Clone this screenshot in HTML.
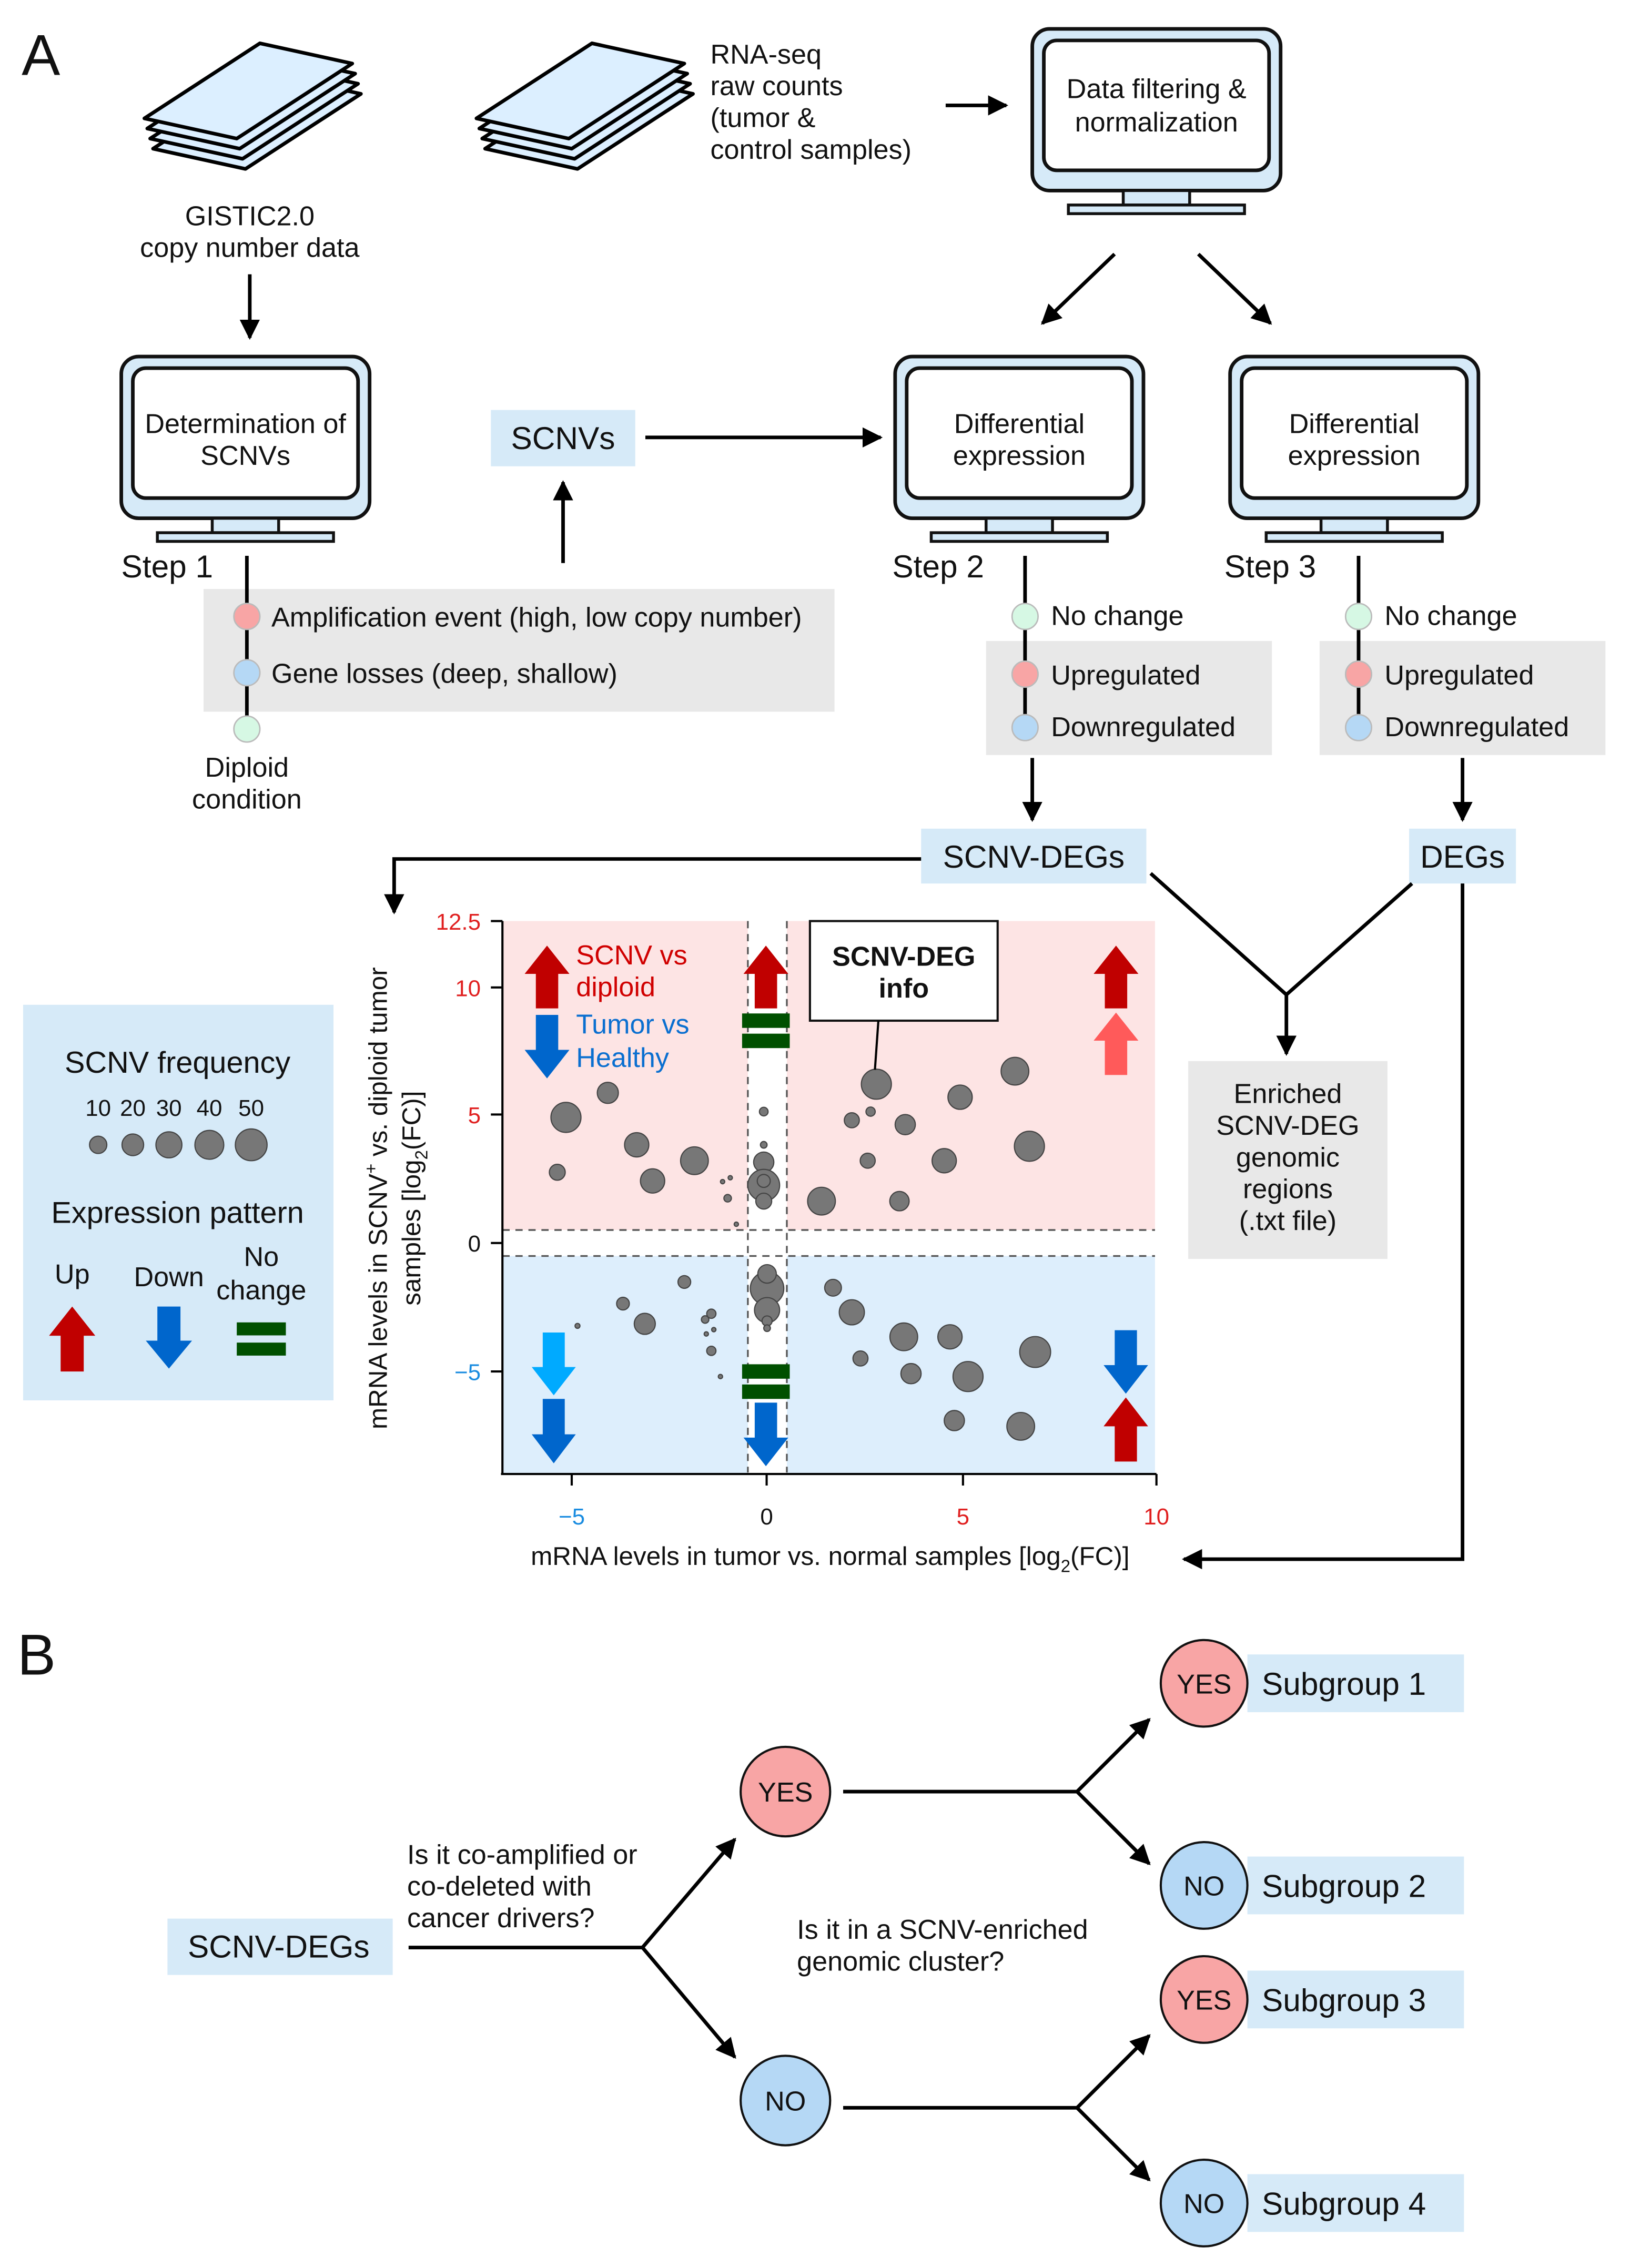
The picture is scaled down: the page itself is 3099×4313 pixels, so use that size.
<!DOCTYPE html>
<html><head><meta charset="utf-8"><style>html,body{margin:0;padding:0;background:#fff}svg{display:block}text{font-family:"Liberation Sans",Arial,sans-serif;fill:#111}</style></head><body>
<svg width="3099" height="4313" viewBox="0 0 1129 1571" preserveAspectRatio="none" xmlns="http://www.w3.org/2000/svg">
<defs>
<marker id="ah" viewBox="0 0 10 10" refX="9" refY="5" markerWidth="7" markerHeight="7" markerUnits="userSpaceOnUse" orient="auto"><path d="M0,0L10,5L0,10z" fill="#000"/></marker>
<marker id="ah2" viewBox="0 0 10 10" refX="9" refY="5" markerWidth="14" markerHeight="14" markerUnits="userSpaceOnUse" orient="auto"><path d="M0,0L10,5L0,10z" fill="#000"/></marker>
<g id="stack" stroke="#000" stroke-width="2.5" stroke-linejoin="round" fill="#dcefff">
<polygon points="106,103 186,51 250,65 170,117"/>
<polygon points="104,96 184,44 248,58 168,110"/>
<polygon points="102,89 182,37 246,51 166,103"/>
<polygon points="100,82 180,30 244,44 164,96"/>
</g>
<g id="mon">
<rect x="0" y="0" width="172" height="112" rx="12" fill="#d6eaf8" stroke="#111" stroke-width="2.5"/>
<rect x="8" y="8" width="156" height="90" rx="9" fill="#fff" stroke="#111" stroke-width="2.5"/>
<rect x="63" y="112" width="46" height="10" fill="#d6eaf8" stroke="#111" stroke-width="2"/>
<rect x="25" y="122" width="122" height="6" fill="#d6eaf8" stroke="#111" stroke-width="2"/>
</g>
<polygon id="up" points="0.5,0 1,0.45 0.75,0.45 0.75,1 0.25,1 0.25,0.45 0,0.45"/>
<polygon id="dn" points="0.5,1 1,0.55 0.75,0.55 0.75,0 0.25,0 0.25,0.55 0,0.55"/>
</defs>

<text x="15" y="52" font-size="40">A</text>
<use href="#stack"/>
<use href="#stack" transform="translate(230,0)"/>
<text font-size="19"><tspan x="492" y="44">RNA-seq</tspan><tspan x="492" y="66">raw counts</tspan><tspan x="492" y="88">(tumor &amp;</tspan><tspan x="492" y="110">control samples)</tspan></text>
<line x1="655" y1="73" x2="697" y2="73" stroke="#000" stroke-width="2.5" marker-end="url(#ah2)"/>
<use href="#mon" transform="translate(715,20)"/>
<text font-size="19" text-anchor="middle"><tspan x="801" y="68">Data filtering &amp;</tspan><tspan x="801" y="91">normalization</tspan></text>
<line x1="772" y1="176" x2="722" y2="224" stroke="#000" stroke-width="2.5" marker-end="url(#ah2)"/>
<line x1="830" y1="176" x2="880" y2="224" stroke="#000" stroke-width="2.5" marker-end="url(#ah2)"/>

<text font-size="19" text-anchor="middle"><tspan x="173" y="156">GISTIC2.0</tspan><tspan x="173" y="178">copy number data</tspan></text>
<line x1="173" y1="190" x2="173" y2="234" stroke="#000" stroke-width="2.5" marker-end="url(#ah2)"/>

<use href="#mon" transform="translate(84,247)"/>
<text font-size="19" text-anchor="middle"><tspan x="170" y="300">Determination of</tspan><tspan x="170" y="322">SCNVs</tspan></text>
<use href="#mon" transform="translate(620,247)"/>
<text font-size="19" text-anchor="middle"><tspan x="706" y="300">Differential</tspan><tspan x="706" y="322">expression</tspan></text>
<use href="#mon" transform="translate(852,247)"/>
<text font-size="19" text-anchor="middle"><tspan x="938" y="300">Differential</tspan><tspan x="938" y="322">expression</tspan></text>

<text x="84" y="400" font-size="22">Step 1</text>
<text x="618" y="400" font-size="22">Step 2</text>
<text x="848" y="400" font-size="22">Step 3</text>

<rect x="340" y="284" width="100" height="39" fill="#d6eaf8"/>
<text x="390" y="311" font-size="22" text-anchor="middle">SCNVs</text>
<line x1="447" y1="303" x2="610" y2="303" stroke="#000" stroke-width="2.5" marker-end="url(#ah2)"/>
<line x1="390" y1="390" x2="390" y2="334" stroke="#000" stroke-width="2.5" marker-end="url(#ah2)"/>

<rect x="141" y="408" width="437" height="85" fill="#e8e8e8"/>
<line x1="171" y1="385" x2="171" y2="505" stroke="#000" stroke-width="2.5"/>
<circle cx="171" cy="427" r="9" fill="#f8a5a5" stroke="#bbb"/>
<circle cx="171" cy="466" r="9" fill="#b5d8f5" stroke="#bbb"/>
<circle cx="171" cy="505" r="9" fill="#d6f8e4" stroke="#bbb"/>
<text x="188" y="434" font-size="19">Amplification event (high, low copy number)</text>
<text x="188" y="473" font-size="19">Gene losses (deep, shallow)</text>
<text font-size="19" text-anchor="middle"><tspan x="171" y="538">Diploid</tspan><tspan x="171" y="560">condition</tspan></text>

<rect x="683" y="444" width="198" height="79" fill="#e8e8e8"/>
<line x1="710" y1="385" x2="710" y2="504" stroke="#000" stroke-width="2.5"/>
<circle cx="710" cy="427" r="9" fill="#d6f8e4" stroke="#bbb"/>
<circle cx="710" cy="467" r="9" fill="#f8a5a5" stroke="#bbb"/>
<circle cx="710" cy="504" r="9" fill="#b5d8f5" stroke="#bbb"/>
<text x="728" y="433" font-size="19">No change</text>
<text x="728" y="474" font-size="19">Upregulated</text>
<text x="728" y="510" font-size="19">Downregulated</text>

<rect x="914" y="444" width="198" height="79" fill="#e8e8e8"/>
<line x1="941" y1="385" x2="941" y2="504" stroke="#000" stroke-width="2.5"/>
<circle cx="941" cy="427" r="9" fill="#d6f8e4" stroke="#bbb"/>
<circle cx="941" cy="467" r="9" fill="#f8a5a5" stroke="#bbb"/>
<circle cx="941" cy="504" r="9" fill="#b5d8f5" stroke="#bbb"/>
<text x="959" y="433" font-size="19">No change</text>
<text x="959" y="474" font-size="19">Upregulated</text>
<text x="959" y="510" font-size="19">Downregulated</text>

<line x1="715" y1="525" x2="715" y2="568" stroke="#000" stroke-width="2.5" marker-end="url(#ah2)"/>
<line x1="1013" y1="525" x2="1013" y2="568" stroke="#000" stroke-width="2.5" marker-end="url(#ah2)"/>

<rect x="638" y="574" width="156" height="38" fill="#d6eaf8"/>
<text x="716" y="601" font-size="22" text-anchor="middle">SCNV-DEGs</text>
<rect x="976" y="574" width="74" height="38" fill="#d6eaf8"/>
<text x="1013" y="601" font-size="22" text-anchor="middle">DEGs</text>
<polyline points="638,595 273,595 273,632" fill="none" stroke="#000" stroke-width="2.5" marker-end="url(#ah2)"/>
<polyline points="797,605 891,689 978,612" fill="none" stroke="#000" stroke-width="2.5"/>
<line x1="891" y1="689" x2="891" y2="730" stroke="#000" stroke-width="2.5" marker-end="url(#ah2)"/>
<rect x="823" y="735" width="138" height="137" fill="#e8e8e8"/>
<text font-size="19" text-anchor="middle"><tspan x="892" y="764">Enriched</tspan><tspan x="892" y="786">SCNV-DEG</tspan><tspan x="892" y="808">genomic</tspan><tspan x="892" y="830">regions</tspan><tspan x="892" y="852">(.txt file)</tspan></text>
<polyline points="1013,612 1013,1080 820,1080" fill="none" stroke="#000" stroke-width="2.5" marker-end="url(#ah2)"/>

<!-- plot -->
<rect x="348" y="638" width="170" height="214" fill="#fde4e4"/>
<rect x="545" y="638" width="255" height="214" fill="#fde4e4"/>
<rect x="348" y="870" width="170" height="151" fill="#ddeefc"/>
<rect x="545" y="870" width="255" height="151" fill="#ddeefc"/>
<g stroke="#555" stroke-width="1.2" stroke-dasharray="5,4" fill="none">
<line x1="518" y1="638" x2="518" y2="1020"/><line x1="545" y1="638" x2="545" y2="1020"/>
<line x1="348" y1="852" x2="800" y2="852"/><line x1="348" y1="870" x2="800" y2="870"/>
</g>
<g stroke="#000" stroke-width="1.5">
<line x1="348" y1="638" x2="348" y2="1021"/><line x1="347" y1="1021" x2="801" y2="1021"/>
<line x1="340" y1="638" x2="348" y2="638"/><line x1="340" y1="684" x2="348" y2="684"/><line x1="340" y1="772" x2="348" y2="772"/><line x1="340" y1="861" x2="348" y2="861"/><line x1="340" y1="950" x2="348" y2="950"/>
<line x1="396" y1="1021" x2="396" y2="1029"/><line x1="531" y1="1021" x2="531" y2="1029"/><line x1="667" y1="1021" x2="667" y2="1029"/><line x1="801" y1="1021" x2="801" y2="1029"/>
</g>
<g font-size="16" text-anchor="end">
<text x="333" y="644" style="fill:#e02020">12.5</text><text x="333" y="690" style="fill:#e02020">10</text><text x="333" y="778" style="fill:#e02020">5</text><text x="333" y="867">0</text><text x="333" y="956" style="fill:#1a8ce0">−5</text>
</g>
<g font-size="16" text-anchor="middle">
<text x="396" y="1056" style="fill:#1a8ce0">−5</text><text x="531" y="1056">0</text><text x="667" y="1056" style="fill:#e02020">5</text><text x="801" y="1056" style="fill:#e02020">10</text>
</g>
<text x="575" y="1084" font-size="18" text-anchor="middle">mRNA levels in tumor vs. normal samples [log<tspan font-size="12" dy="5">2</tspan><tspan dy="-5">(FC)]</tspan></text>
<g transform="translate(268,830) rotate(-90)"><text x="0" y="0" font-size="18" text-anchor="middle">mRNA levels in SCNV<tspan font-size="12" dy="-7">+</tspan><tspan dy="7"> vs. diploid tumor</tspan></text></g>
<g transform="translate(291,830) rotate(-90)"><text x="0" y="0" font-size="18" text-anchor="middle">samples [log<tspan font-size="12" dy="5">2</tspan><tspan dy="-5">(FC)]</tspan></text></g>

<g fill="#777" stroke="#444" stroke-width="0.8">
<circle cx="392" cy="774" r="10.4"/><circle cx="421" cy="757" r="7.3"/><circle cx="441" cy="793" r="8.4"/><circle cx="481" cy="804" r="9.6"/><circle cx="452" cy="818" r="8.4"/><circle cx="386" cy="812" r="5.5"/>
<circle cx="500.5" cy="818.5" r="1.5"/><circle cx="505.8" cy="815.8" r="1.5"/><circle cx="504" cy="830" r="2.6"/><circle cx="510" cy="848" r="1.5"/>
<circle cx="529" cy="770" r="3"/><circle cx="529" cy="793" r="2.3"/><circle cx="529" cy="805" r="7"/><circle cx="529" cy="821" r="11"/><circle cx="529" cy="818" r="4.5"/><circle cx="529" cy="832" r="5.5"/>
<circle cx="607" cy="751" r="10.4"/><circle cx="603" cy="770" r="3.2"/><circle cx="590" cy="776" r="5.2"/><circle cx="627" cy="779" r="7"/><circle cx="665" cy="760" r="8.4"/><circle cx="703" cy="742" r="9.6"/><circle cx="713" cy="794" r="10.4"/><circle cx="601" cy="804" r="5.2"/><circle cx="654" cy="804" r="8.4"/><circle cx="569" cy="832" r="9.6"/><circle cx="623" cy="832" r="6.7"/>
<circle cx="474" cy="888" r="4.4"/><circle cx="431.5" cy="903" r="4.4"/><circle cx="446.6" cy="917" r="7.3"/><circle cx="400" cy="918.4" r="1.7"/><circle cx="492.7" cy="910" r="3.2"/><circle cx="488.4" cy="914" r="2.6"/><circle cx="494.4" cy="921" r="1.5"/><circle cx="489.2" cy="924" r="1.5"/><circle cx="492.7" cy="935.7" r="3.2"/><circle cx="499" cy="953.5" r="1.5"/>
<circle cx="531.3" cy="892.5" r="11.6"/><circle cx="531.3" cy="882.4" r="6.4"/><circle cx="531.3" cy="907.5" r="8.7"/><circle cx="531.3" cy="915" r="3.5"/><circle cx="531.3" cy="920" r="2.3"/>
<circle cx="577" cy="892" r="5.8"/><circle cx="590" cy="909" r="8.7"/><circle cx="626" cy="926" r="9.6"/><circle cx="658" cy="926" r="8.4"/><circle cx="596" cy="941" r="5.2"/><circle cx="631" cy="951.5" r="7"/><circle cx="670.5" cy="953.5" r="10.4"/><circle cx="717" cy="936.5" r="10.7"/><circle cx="661" cy="984" r="7"/><circle cx="707" cy="988" r="9.6"/>
</g>

<use href="#up" fill="#c00000" transform="translate(363.4,655) scale(31,43.5)"/>
<use href="#dn" fill="#0066cc" transform="translate(363.4,703) scale(31,44)"/>
<text x="399" y="668" font-size="19" style="fill:#d00000">SCNV vs</text>
<text x="399" y="690" font-size="19" style="fill:#d00000">diploid</text>
<text x="399" y="716" font-size="19" style="fill:#0a6fd0">Tumor vs</text>
<text x="399" y="739" font-size="19" style="fill:#0a6fd0">Healthy</text>
<use href="#up" fill="#c00000" transform="translate(515,655) scale(31,43.5)"/>
<rect x="514" y="702" width="33" height="10" fill="#005000"/><rect x="514" y="716" width="33" height="10" fill="#005000"/>
<rect x="561" y="638" width="130" height="69" fill="#fff" stroke="#111" stroke-width="1.5"/>
<text x="626" y="669" font-size="19" font-weight="bold" text-anchor="middle">SCNV-DEG</text>
<text x="626" y="691" font-size="19" font-weight="bold" text-anchor="middle">info</text>
<line x1="608.4" y1="707" x2="606" y2="741" stroke="#000" stroke-width="1.5"/>
<use href="#up" fill="#c00000" transform="translate(757.5,655) scale(31,43.5)"/>
<use href="#up" fill="#ff5a5a" transform="translate(757.5,701.4) scale(31,43.2)"/>
<use href="#dn" fill="#00aaff" transform="translate(368.3,923) scale(30.5,43.5)"/>
<use href="#dn" fill="#0066cc" transform="translate(368.3,969) scale(30.5,44.6)"/>
<rect x="514" y="945" width="33" height="10" fill="#005000"/><rect x="514" y="959" width="33" height="10" fill="#005000"/>
<use href="#dn" fill="#0066cc" transform="translate(515,971.6) scale(31,44)"/>
<use href="#dn" fill="#0066cc" transform="translate(764.4,921.4) scale(30.8,44)"/>
<use href="#up" fill="#c00000" transform="translate(764.4,968) scale(30.8,44.4)"/>

<!-- legend -->
<rect x="16" y="696" width="215" height="274" fill="#d6eaf8"/>
<text x="123" y="743" font-size="21" text-anchor="middle">SCNV frequency</text>
<g font-size="16" text-anchor="middle"><text x="68" y="773">10</text><text x="92" y="773">20</text><text x="117" y="773">30</text><text x="145" y="773">40</text><text x="174" y="773">50</text></g>
<g fill="#777" stroke="#444" stroke-width="0.8"><circle cx="68" cy="793" r="6"/><circle cx="92" cy="793" r="7.5"/><circle cx="117" cy="793" r="9"/><circle cx="145" cy="793" r="10"/><circle cx="174" cy="793" r="11"/></g>
<text x="123" y="847" font-size="21" text-anchor="middle">Expression pattern</text>
<text x="50" y="889" font-size="19" text-anchor="middle">Up</text>
<text x="117" y="891" font-size="19" text-anchor="middle">Down</text>
<text x="181" y="877" font-size="19" text-anchor="middle">No</text>
<text x="181" y="900" font-size="19" text-anchor="middle">change</text>
<use href="#up" fill="#c00000" transform="translate(34,905) scale(32,45)"/>
<use href="#dn" fill="#0066cc" transform="translate(101,905) scale(32,43)"/>
<rect x="164" y="916" width="34" height="9" fill="#005000"/><rect x="164" y="930" width="34" height="9" fill="#005000"/>

<!-- B -->
<text x="12" y="1160" font-size="40">B</text>
<rect x="116" y="1329" width="156" height="39" fill="#d6eaf8"/>
<text x="193" y="1356" font-size="22" text-anchor="middle">SCNV-DEGs</text>
<line x1="283" y1="1349" x2="445" y2="1349" stroke="#000" stroke-width="2.5"/>
<line x1="445" y1="1349" x2="509" y2="1274" stroke="#000" stroke-width="2.5" marker-end="url(#ah2)"/>
<line x1="445" y1="1349" x2="509" y2="1425" stroke="#000" stroke-width="2.5" marker-end="url(#ah2)"/>
<text font-size="19"><tspan x="282" y="1291">Is it co-amplified or</tspan><tspan x="282" y="1313">co-deleted with</tspan><tspan x="282" y="1335">cancer drivers?</tspan></text>
<text font-size="19"><tspan x="552" y="1343">Is it in a SCNV-enriched</tspan><tspan x="552" y="1365">genomic cluster?</tspan></text>
<circle cx="544" cy="1241" r="31" fill="#f8a5a5" stroke="#111" stroke-width="1.5"/>
<text x="544" y="1248" font-size="19" text-anchor="middle">YES</text>
<circle cx="544" cy="1455" r="31" fill="#b5d8f5" stroke="#111" stroke-width="1.5"/>
<text x="544" y="1462" font-size="19" text-anchor="middle">NO</text>
<g stroke="#000" stroke-width="2.5">
<line x1="584" y1="1241" x2="746" y2="1241"/>
<line x1="746" y1="1241" x2="796" y2="1191" marker-end="url(#ah2)"/>
<line x1="746" y1="1241" x2="796" y2="1291" marker-end="url(#ah2)"/>
<line x1="584" y1="1460" x2="746" y2="1460"/>
<line x1="746" y1="1460" x2="796" y2="1410" marker-end="url(#ah2)"/>
<line x1="746" y1="1460" x2="796" y2="1510" marker-end="url(#ah2)"/>
</g>
<rect x="864" y="1146" width="150" height="40" fill="#d6eaf8"/>
<rect x="864" y="1286" width="150" height="40" fill="#d6eaf8"/>
<rect x="864" y="1365" width="150" height="40" fill="#d6eaf8"/>
<rect x="864" y="1506" width="150" height="40" fill="#d6eaf8"/>
<circle cx="834" cy="1166" r="30" fill="#f8a5a5" stroke="#111" stroke-width="1.5"/>
<circle cx="834" cy="1306" r="30" fill="#b5d8f5" stroke="#111" stroke-width="1.5"/>
<circle cx="834" cy="1385" r="30" fill="#f8a5a5" stroke="#111" stroke-width="1.5"/>
<circle cx="834" cy="1526" r="30" fill="#b5d8f5" stroke="#111" stroke-width="1.5"/>
<g font-size="19" text-anchor="middle"><text x="834" y="1173">YES</text><text x="834" y="1313">NO</text><text x="834" y="1392">YES</text><text x="834" y="1533">NO</text></g>
<g font-size="22"><text x="874" y="1174">Subgroup 1</text><text x="874" y="1314">Subgroup 2</text><text x="874" y="1393">Subgroup 3</text><text x="874" y="1534">Subgroup 4</text></g>
</svg>
</body></html>
